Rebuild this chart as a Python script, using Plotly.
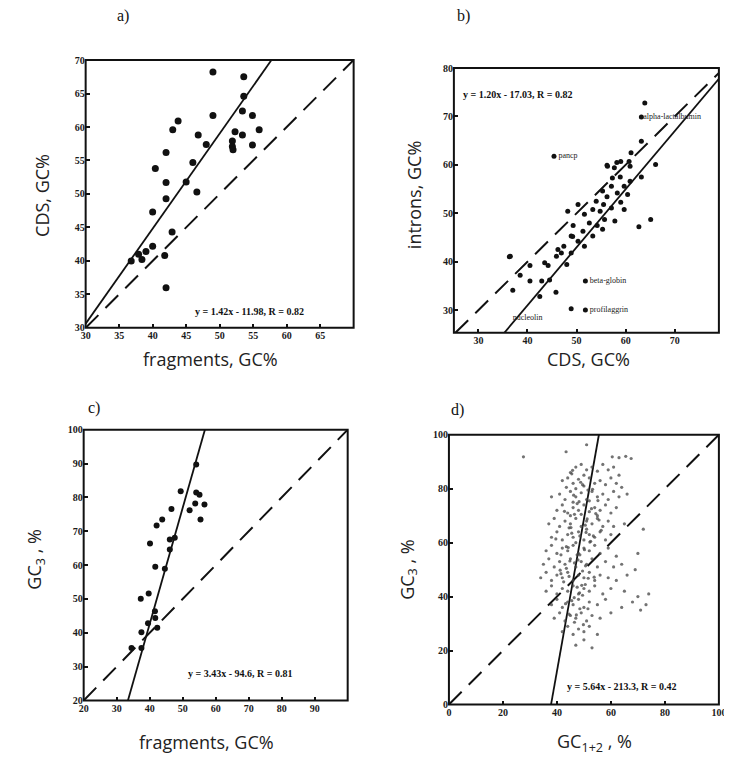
import plotly.graph_objects as go

# ---------------- data ----------------
# panel a: fragments GC% vs CDS GC%
a_x = [49.0, 53.6, 53.6, 49.0, 53.4, 54.9, 43.8, 43.0, 46.8, 48.0, 52.3, 53.4, 55.9, 54.9,
       51.9, 51.9, 52.0, 42.0, 40.4, 46.0, 42.0, 45.0, 42.0, 46.6, 40.0, 42.9, 40.0, 39.0,
       37.9, 38.4, 36.8, 42.0, 41.8]
a_y = [68.2, 67.5, 64.6, 61.7, 62.4, 61.7, 60.9, 59.6, 58.8, 57.4, 59.3, 58.8, 59.6, 57.3,
       57.9, 57.1, 56.6, 56.2, 53.8, 54.7, 51.7, 51.8, 49.3, 50.3, 47.3, 44.3, 42.2, 41.4,
       41.0, 40.2, 40.0, 36.0, 40.8]

# panel b: CDS GC% vs introns GC%
b_x = [45.4, 61.1, 59.0, 56.2, 57.7, 60.9, 66.1, 63.2, 58.9, 60.9, 57.1, 59.7, 55.3, 58.3,
       60.4, 56.2, 54.0, 59.0, 55.5, 57.1, 53.3, 54.8, 51.6, 59.7, 55.7, 57.8, 62.7, 65.1,
       52.6, 49.3, 54.2, 55.3, 51.3, 48.9, 53.3, 50.3, 47.4, 51.6, 48.9, 46.2, 48.2, 50.3,
       36.3, 40.5, 43.5, 44.2, 48.0, 38.5, 40.5, 42.9, 44.5, 37.0, 42.5, 45.8, 51.8, 48.9,
       51.8, 63.9, 63.2, 63.2, 56.3, 58.2, 60.7, 57.3, 45.9, 46.9, 49.2, 36.5]
b_y = [61.8, 62.5, 60.7, 59.9, 59.4, 59.7, 60.1, 57.5, 57.5, 56.6, 55.6, 55.6, 54.6, 54.2,
       53.9, 53.4, 52.5, 52.3, 51.8, 51.1, 50.8, 50.4, 49.8, 50.8, 48.7, 48.4, 47.2, 48.7,
       48.0, 47.5, 47.5, 46.7, 46.3, 45.3, 45.3, 44.2, 43.2, 43.2, 41.8, 42.5, 50.4, 51.8,
       41.0, 39.2, 39.8, 39.2, 39.4, 37.2, 36.0, 36.0, 36.2, 34.1, 32.8, 33.7, 36.0, 30.3,
       30.0, 72.8, 69.9, 64.9, 59.7, 60.5, 60.7, 57.3, 41.1, 41.8, 45.2, 41.1]
b_lab_text = ["pancp", "alpha-lactalbumin", "beta-globin", "profilaggrin", "nucleolin"]
b_lab_x = [46.3, 63.6, 52.7, 52.7, 37.0]
b_lab_y = [61.8, 69.9, 36.0, 30.0, 28.3]

# panel c: fragments GC% vs GC3
c_x = [49.4, 54.1, 55.1, 53.8, 56.6, 52.1, 46.6, 55.4, 43.8, 42.1, 46.1, 47.6, 40.1, 46.1,
       41.7, 44.6, 39.7, 37.3, 41.6, 41.7, 39.5, 42.3, 37.5, 34.5, 37.5, 54.1]
c_y = [81.8, 81.5, 80.8, 78.2, 77.9, 76.2, 76.6, 73.5, 73.5, 71.7, 67.6, 68.1, 66.4, 64.6,
       59.5, 58.9, 51.6, 50.1, 46.4, 44.4, 42.8, 41.5, 40.2, 35.5, 35.5, 89.7]

d_x = [27.6, 43.4, 51.0, 60.5, 63.0, 65.5, 67.5,
       47, 49, 51, 53, 55, 57, 59, 61, 45, 63,
       42, 44, 46, 48, 50, 52, 54, 56, 58, 60, 62, 64, 50, 47,
       38, 41, 43, 45, 47, 49, 51, 53, 55, 57, 59, 61, 63, 66, 46, 52,
       40, 42, 44, 46, 48, 50, 52, 54, 56, 58, 60, 62, 45, 49, 55,
       37, 39, 41, 43, 45, 47, 49, 51, 53, 55, 57, 59, 61, 65, 72,
       38, 40, 42, 44, 46, 48, 50, 52, 54, 56, 58, 60, 47, 51,
       36, 38, 40, 42, 44, 46, 48, 50, 52, 54, 56, 59, 62, 70,
       35, 37, 39, 41, 43, 45, 47, 49, 51, 53, 55, 58, 61, 64, 69,
       34, 36, 38, 40, 42, 44, 46, 48, 50, 52, 54, 56, 59, 62, 66,
       36, 38, 40, 42, 44, 46, 48, 50, 52, 54, 57, 60, 65, 70, 74,
       38, 40, 42, 44, 46, 48, 50, 52, 55, 58, 64, 68, 71, 73,
       39, 41, 43, 45, 47, 49, 51, 53, 56, 60,
       42, 44, 46, 48, 50, 52, 55,
       47, 50, 53,
       43.5, 45.5, 47.5, 49.5, 51.5, 44.5, 46.5, 48.5, 50.5, 52.5, 41.5, 43.5, 47.5, 49.5, 53.5,
       42.5, 44.5, 46.5, 48.5, 50.5, 45.5, 47.5, 49.5, 51.5, 43.5, 44.5, 46.5, 48.5, 41.5, 45.5,
       48.2, 52.8, 55.6, 44.2, 50.8, 53.2, 41.2, 47.8, 56.4, 49.2, 45.8, 51.6, 39.6, 54.4, 46.4,
       50.2, 42.8, 48.8, 53.8, 47.2, 44.8, 51.2, 49.8, 46.2, 52.2, 43.2, 55.2, 48.4, 45.2, 50.6]
d_y = [91.8, 93.7, 96.3, 91.8, 91.5, 92.0, 91.2,
       88, 89, 87, 88, 86.5, 89, 87, 88, 86, 85,
       83, 84, 82, 83.5, 81, 84, 82, 83, 81.5, 84, 82, 80.5, 85, 80,
       77, 78, 76, 79, 77, 78.5, 76, 79, 77, 78, 76, 79, 77, 78, 75, 75.5,
       72, 74, 71, 73, 72, 74, 71.5, 73, 72, 74, 71, 73, 70, 70.5, 70,
       67, 69, 66, 68, 67, 69, 66, 68, 67, 69, 66, 68, 66, 67, 65,
       62, 64, 61, 63, 62, 64, 61, 63, 62, 64, 61, 63, 60, 65,
       57, 59, 56, 58, 57, 59, 56, 58, 57, 59, 56, 58, 55, 56,
       52, 54, 51, 53, 52, 54, 51, 53, 52, 54, 51, 53, 51, 52, 50,
       47, 49, 46, 48, 47, 49, 46, 48, 47, 49, 46, 48, 47, 46, 48,
       42, 44, 41, 43, 42, 44, 41, 43, 42, 44, 41, 43, 42, 40, 41,
       37, 39, 36, 38, 37, 39, 36, 38, 37, 39, 36, 38, 35, 37,
       32, 34, 31, 33, 32, 34, 31, 33, 32, 34,
       27, 29, 26, 28, 27, 29, 26,
       22, 24, 21,
       80.5, 85.5, 74.5, 81.5, 79.5, 65.5, 70.5, 62.5, 66.5, 60.5, 55.5, 50.5, 55.5, 49.5, 62.5,
       45.5, 47.5, 52.5, 55.5, 44.5, 38.5, 43.5, 40.5, 35.5, 58.5, 33.5, 30.5, 35.5, 48.5, 63.5,
       75.2, 72.6, 68.4, 58.2, 63.8, 79.8, 49.8, 53.6, 64.6, 44.2, 86.8, 46.8, 61.4, 70.8, 39.6,
       57.4, 71.6, 82.4, 47.2, 33.2, 53.2, 68.8, 29.6, 77.6, 60.2, 37.4, 75.6, 41.4, 65.6, 51.4]

# regression equations (slope, intercept) and labels
fit_slope = [1.42, 1.20, 3.43, 5.64]
fit_icpt = [-11.98, -17.03, -94.6, -213.3]
eq_text = ["y = 1.42x - 11.98, R = 0.82", "y = 1.20x - 17.03, R = 0.82",
           "y = 3.43x - 94.6, R = 0.81", "y = 5.64x - 213.3, R = 0.42"]
panel_letters = ["a)", "b)", "c)", "d)"]
x_ranges = [[30, 70], [25, 79], [20, 100], [0, 100]]
y_ranges = [[30, 70], [25.3, 80], [20, 100], [0, 100]]
x_ticks = [[30, 35, 40, 45, 50, 55, 60, 65], [30, 40, 50, 60, 70],
           [20, 30, 40, 50, 60, 70, 80, 90], [0, 20, 40, 60, 80, 100]]
y_ticks = [[30, 35, 40, 45, 50, 55, 60, 65, 70], [30, 40, 50, 60, 70, 80],
           [20, 30, 40, 50, 60, 70, 80, 90, 100], [0, 20, 40, 60, 80, 100]]
x_titles = ["fragments, GC%", "CDS, GC%", "fragments, GC%", "GC<sub>1+2</sub> , %"]
y_titles = ["CDS, GC%", "introns, GC%", "GC<sub>3</sub> , %", "GC<sub>3</sub> , %"]

# ---------------- layout helpers ----------------
W, H = 732, 759
# observed page mapping: out = s * in + o  (compensate)
SX, OX, SY, OY = 0.991, 13.8, 0.985, 13.9
boxes = [(87, 357, 60, 328), (458, 725, 68, 333), (85, 351, 430, 701), (453, 725, 435, 705)]


def px2x(p):
    return (p - OX) / (SX * W)


def px2y(p):
    return 1 - (p - OY) / (SY * H)


fig = go.Figure()
tickfont = dict(family="Liberation Serif", size=10, color="#1a1a1a", weight="bold")
titlefont = dict(family="Open Sans", size=18, color="#222")

series = [(a_x, a_y, 7), (b_x, b_y, 5), (c_x, c_y, 6), (d_x, d_y, 3.2)]

for i in range(4):
    xa = "x" if i == 0 else f"x{i+1}"
    ya = "y" if i == 0 else f"y{i+1}"
    xr, yr = x_ranges[i], y_ranges[i]
    lo, hi = max(xr[0], yr[0]), min(xr[1], yr[1])
    fig.add_trace(go.Scatter(x=[lo, hi], y=[lo, hi], mode="lines", xaxis=xa, yaxis=ya,
                             line=dict(color="#111", width=2, dash="18px,10px"),
                             showlegend=False, hoverinfo="skip", cliponaxis=False))
    m, c = fit_slope[i], fit_icpt[i]
    x0 = max(xr[0], (yr[0] - c) / m)
    x1 = min(xr[1], (yr[1] - c) / m)
    fig.add_trace(go.Scatter(x=[x0, x1], y=[m * x0 + c, m * x1 + c], mode="lines",
                             xaxis=xa, yaxis=ya, line=dict(color="#111", width=1.8),
                             showlegend=False, hoverinfo="skip"))
    sx, sy, ms = series[i]
    fig.add_trace(go.Scatter(x=sx, y=sy, mode="markers", xaxis=xa, yaxis=ya,
                             marker=dict(color="#111" if i < 3 else "#444", size=ms,
                                         opacity=1 if i < 3 else 0.75),
                             showlegend=False))
    l, r, t, b = boxes[i]
    axcommon = dict(showgrid=False, zeroline=False, showline=False,
                    ticks="inside", ticklen=4, tickwidth=1.5,
                    tickcolor="#111", tickfont=tickfont)
    fig.update_layout(**{
        ("xaxis" if i == 0 else f"xaxis{i+1}"): dict(
            domain=[px2x(l), px2x(r)], range=xr, tickvals=x_ticks[i], anchor=ya, **axcommon),
        ("yaxis" if i == 0 else f"yaxis{i+1}"): dict(
            domain=[px2y(b), px2y(t)], range=yr, tickvals=y_ticks[i], anchor=xa, **axcommon),
    })
    fig.add_shape(type="rect", xref=f"{xa} domain", yref=f"{ya} domain", x0=0, x1=1, y0=0, y1=1,
                  line=dict(color="#111", width=2), layer="above")

# panel b gene labels
fig.add_trace(go.Scatter(x=b_lab_x, y=b_lab_y, mode="text", text=b_lab_text,
                         textposition="middle right", xaxis="x2", yaxis="y2",
                         textfont=dict(family="Liberation Serif", size=8, color="#222"),
                         showlegend=False, hoverinfo="skip"))

# equations
eq_pos = [("x", "y", 54.5, 32.4, "center"), ("x2", "y2", 26.5, 74.5, "left"),
          ("x3", "y3", 67.5, 28.0, "center"), ("x4", "y4", 64, 6.5, "center")]
for i, (xr_, yr_, ex, ey, al) in enumerate(eq_pos):
    fig.add_annotation(x=ex, y=ey, xref=xr_, yref=yr_, text=eq_text[i], showarrow=False,
                       xanchor=al, yanchor="middle",
                       font=dict(family="Liberation Serif", size=10, color="#111", weight="bold"))

# panel letters
letter_pos = [(125, 16), (468, 16), (95, 408), (462, 410)]
for i, (lx, ly) in enumerate(letter_pos):
    fig.add_annotation(x=px2x(lx), y=px2y(ly), xref="paper", yref="paper", text=panel_letters[i],
                       showarrow=False, xanchor="center", yanchor="middle",
                       font=dict(family="Liberation Serif", size=16, color="#111"))

# axis titles
xt_pos = [(213, 359), (594, 359), (209, 742), (600, 743)]
yt_pos = [(43, 195), (418, 195), (37, 560), (412, 570)]
for i in range(4):
    fig.add_annotation(x=px2x(xt_pos[i][0]), y=px2y(xt_pos[i][1]), xref="paper", yref="paper",
                       text=x_titles[i], showarrow=False, xanchor="center", yanchor="middle",
                       font=titlefont)
    fig.add_annotation(x=px2x(yt_pos[i][0]), y=px2y(yt_pos[i][1]), xref="paper", yref="paper",
                       text=y_titles[i], showarrow=False, textangle=-90, xanchor="center",
                       yanchor="middle", font=titlefont)

fig.update_layout(width=W, height=H, margin=dict(l=0, r=0, t=0, b=0),
                  paper_bgcolor="white", plot_bgcolor="white")
fig.write_html("out.html")
